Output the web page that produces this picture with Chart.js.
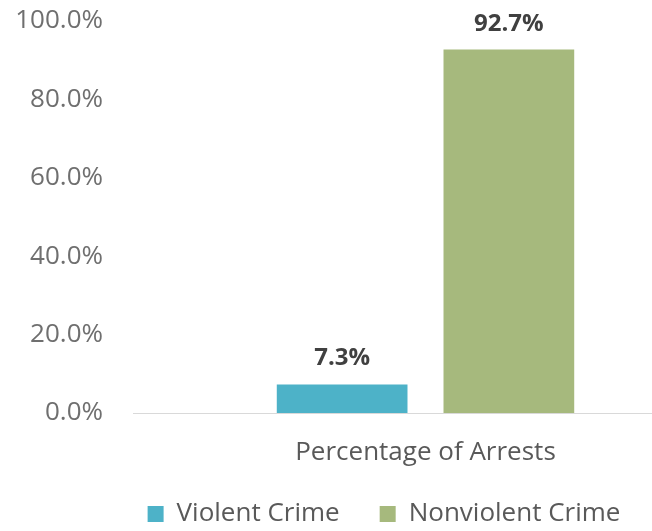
<!DOCTYPE html>
<html>
<head>
<meta charset="utf-8">
<script src="https://cdn.jsdelivr.net/npm/chart.js@4/dist/chart.umd.min.js"></script>
<style>
  html, body { margin: 0; padding: 0; background: #fff; overflow: hidden; }
  #wrap { width: 652px; height: 531px; overflow: hidden; }
</style>
</head>
<body>
<div id="wrap"><canvas id="arrestChart" width="768" height="531"></canvas></div>
<script>
var categories = ["Percentage of Arrests"];
var seriesNames = ["Violent Crime", "Nonviolent Crime"];
var violentValues = [7.3];
var nonviolentValues = [92.7];
var seriesColors = ["#4DB2C8", "#A6B97D"];
var yTicks = [0, 20, 40, 60, 80, 100];

var FONT = "'Open Sans', 'Noto Sans', sans-serif";

// value labels above each bar
var barLabels = {
    id: "barLabels",
    afterDatasetsDraw: function (chart) {
        var ctx = chart.ctx;
        ctx.save();
        ctx.font = "bold 24px " + FONT;
        ctx.fillStyle = "#404040";
        ctx.textAlign = "center";
        ctx.textBaseline = "alphabetic";
        chart.data.datasets.forEach(function (ds, i) {
            chart.getDatasetMeta(i).data.forEach(function (bar, j) {
                ctx.fillText(ds.data[j].toFixed(1) + "%", bar.x, bar.y - 19);
            });
        });
        ctx.restore();
    }
};

// keep the legend band short and pull it up a little
var legendHeight = {
    id: "legendHeight",
    beforeLayout: function (chart) {
        var lg = chart.legend;
        if (lg && !lg._shortFit) {
            var fit = lg.fit;
            lg.fit = function () {
                fit.call(this);
                this.height = 65;
            };
            lg._shortFit = true;
        }
    },
    afterLayout: function (chart) {
        var lg = chart.legend;
        if (lg) {
            lg.top -= 5;
            lg.bottom -= 5;
        }
    }
};

chart = new Chart("arrestChart", {
    type: "bar",
    data: {
        labels: categories,
        datasets: [{
            label: seriesNames[0],
            data: violentValues,
            backgroundColor: seriesColors[0]
        }, {
            label: seriesNames[1],
            data: nonviolentValues,
            backgroundColor: seriesColors[1]
        }]
    },
    options: {
        responsive: false,
        animation: false,
        categoryPercentage: 0.57,
        barPercentage: 0.784,
        layout: { padding: { top: 21, bottom: 0, left: 0, right: 0 } },
        plugins: {
            tooltip: { enabled: false },
            legend: {
                position: "bottom",
                labels: {
                    font: { family: FONT, size: 26 },
                    color: "#595959",
                    boxWidth: 16,
                    boxHeight: 16,
                    padding: 40
                }
            }
        },
        scales: {
            x: {
                grid: { display: false, drawTicks: false },
                border: { display: true, color: "#D9D9D9", width: 1 },
                ticks: { font: { family: FONT, size: 26 }, color: "#595959", padding: 24 },
                afterFit: function (s) { s.height = 53; }
            },
            y: {
                min: 0,
                max: 100,
                grid: { display: false, drawTicks: false },
                border: { display: false },
                afterBuildTicks: function (s) {
                    s.ticks = yTicks.map(function (v) { return { value: v }; });
                },
                ticks: {
                    font: { family: FONT, size: 26 },
                    color: "#6F6F6F",
                    padding: 30,
                    callback: function (v) { return v.toFixed(1) + "%"; }
                },
                afterFit: function (s) {
                    s.width = 133;
                    s.paddingTop = 0;
                    s.paddingBottom = 0;
                }
            },
            // blank margin on the right of the plot
            pad: {
                type: "linear",
                position: "right",
                display: true,
                grid: { display: false, drawTicks: false },
                border: { display: false },
                ticks: { display: false },
                afterFit: function (s) {
                    s.width = 50;
                    s.paddingTop = 0;
                    s.paddingBottom = 0;
                }
            }
        }
    },
    plugins: [barLabels, legendHeight]
});
</script>
</body>
</html>
